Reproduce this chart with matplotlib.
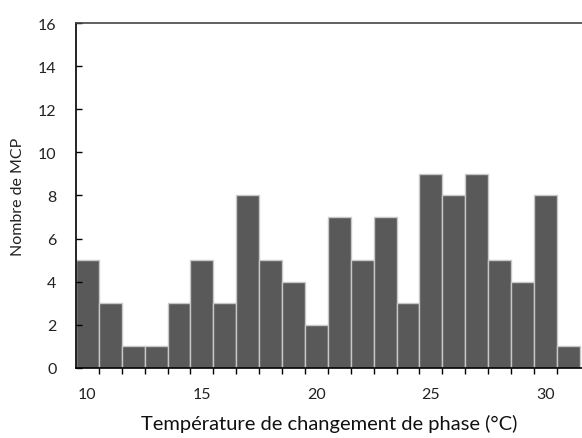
import numpy as np
import matplotlib
matplotlib.use("Agg")
import matplotlib.pyplot as plt

plt.rcParams['font.family'] = ['Lato', 'DejaVu Sans']

# temperature classes (degC) and number of PCMs in each
temps = np.arange(10, 32)
counts = [5, 3, 1, 1, 3, 5, 3, 8, 5, 4, 2, 7, 5, 7, 3, 9, 8, 9, 5, 4, 8, 1]
xticks = [10, 15, 20, 25, 30]
yticks = [0, 2, 4, 6, 8, 10, 12, 14, 16]

fig = plt.figure(figsize=(5.82, 4.39), dpi=100)
ax = fig.add_axes([0.1306, 0.1595, 0.8694, 0.7858])

ax.bar(temps, counts, width=1.0, color='#595959', edgecolor='#c8c8c8', linewidth=1.0)

ax.set_xlim(9.5, 31.6)
ax.set_ylim(0, 16)
ax.set_xticks(xticks)
ax.set_xticks(temps[:-1] + 0.5, minor=True)
ax.set_yticks(yticks)

ax.tick_params(axis='x', which='major', length=0, pad=14, labelsize=11.5, colors='#222222')
ax.tick_params(axis='x', which='minor', length=4, direction='out', width=1, color='black')
ax.tick_params(axis='y', length=4, direction='in', width=1, pad=14, labelsize=11.5, colors='#222222')
ax.tick_params(axis='y', color='black')

ax.spines['right'].set_visible(False)
for s in ['left', 'bottom', 'top']:
    ax.spines[s].set_linewidth(1.2)
    ax.spines[s].set_color('black')
ax.spines['top'].set_color('#444444')

ax.set_xlabel('Température de changement de phase (°C)', fontsize=14.5, labelpad=9, color='#111111')
ax.set_ylabel('Nombre de MCP', fontsize=11.5, labelpad=9, color='#222222')

fig.savefig('out.png', dpi=100)
